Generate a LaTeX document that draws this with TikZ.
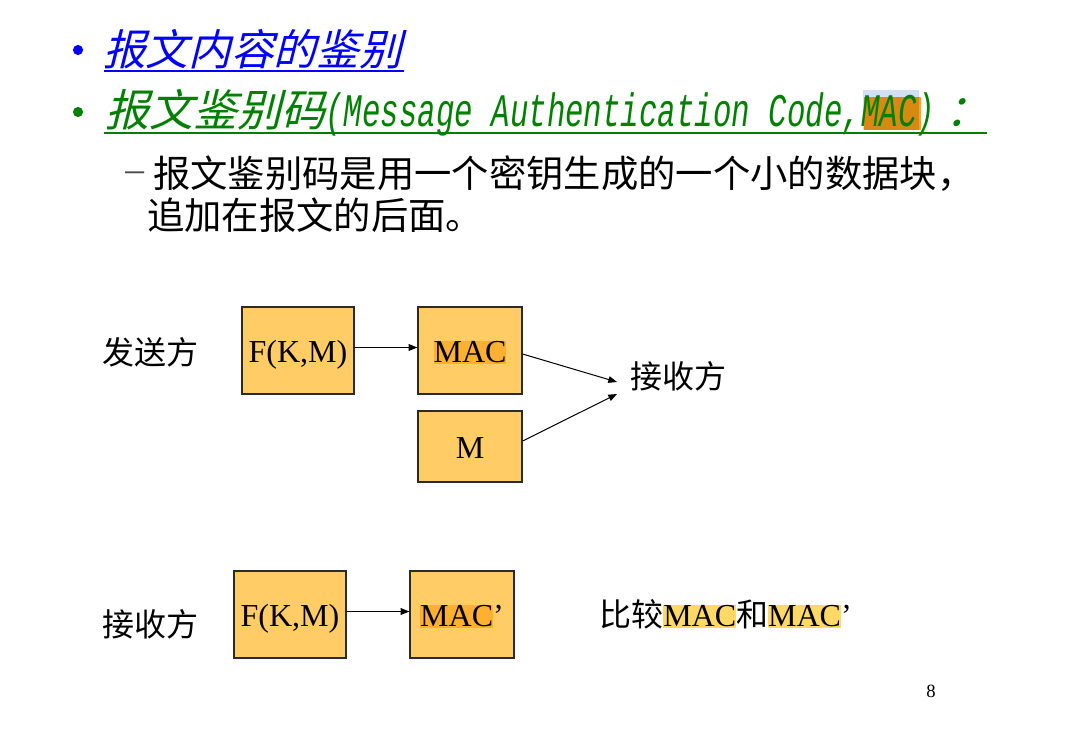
\documentclass[tikz,border=0pt]{standalone}
\usepackage{fontspec}
\usetikzlibrary{arrows.meta,calc}
\setmainfont{Liberation Serif}
\newfontfamily\cjk{Noto Sans CJK SC}
\newfontfamily\cjkit{Noto Sans CJK SC}[FakeSlant=0.25]
\newfontfamily\monoit{Liberation Mono Italic}[FakeStretch=0.66]

\definecolor{boxfill}{HTML}{FFCC66}
\definecolor{boxline}{HTML}{2B2B2B}
\definecolor{hlbox}{HTML}{FFB030}
\definecolor{hltext}{HTML}{FFD966}
\definecolor{titleblue}{HTML}{0000FF}
\definecolor{titlegreen}{HTML}{008000}
\definecolor{selblue}{HTML}{D3DEF7}
\definecolor{selorange}{HTML}{D68A12}
\definecolor{brightorange}{HTML}{FFA41C}

% highlighted run of text
\newcommand\hlmark[2]{{\setlength\fboxsep{0pt}\colorbox{#1}{\rule[-0.06em]{0pt}{0.70em}#2}}}

\begin{document}
\begin{tikzpicture}[x=0.75pt,y=-0.75pt,
  blk/.style={draw=boxline, line width=0.9pt, fill=boxfill,
    font=\fontsize{24pt}{28pt}\selectfont, inner sep=0pt,
    text height=17.3pt, text depth=0pt,
    minimum height=65.25pt},
  lbl/.style={font=\fontsize{24pt}{28pt}\cjk, inner sep=0pt},
  arr/.style={-{Triangle[length=6.5pt,width=5pt]}, line width=0.75pt, black}]
\useasboundingbox[fill=white] (0,0) rectangle (1067,729);

% bullet points
\fill[titleblue] (78,50) circle[radius=3.8pt];
\fill[titlegreen] (78,112) circle[radius=3.8pt];

% heading 1
\node[anchor=base west, inner sep=0pt, text=titleblue,
  font=\fontsize{32pt}{40pt}\cjkit] (title1) at (103,65) {报文内容的鉴别};
\draw[titleblue, line width=1.5pt] (104,70.5) -- (404,70.5);

% heading 2 with the marked "MAC"
\fill[selblue] (863,90) rectangle (919,130);
\fill[selorange] (864,97) rectangle (919,130);
\fill[brightorange] (919,97) rectangle (921,130);
\node[anchor=base west, inner sep=0pt, text=titlegreen,
  font=\fontsize{33pt}{40pt}\selectfont] (title2) at (105,126)
  {{\cjkit 报文鉴别码}{\fontsize{35pt}{40pt}\monoit (Message Authentication Code,MAC)}\hspace{8pt}{\cjkit ：}};
\draw[titlegreen, line width=1.5pt] (104,132.5) -- (987,132.5);

% body text
\node[anchor=base west, inner sep=0pt, font=\fontsize{28pt}{34pt}\selectfont] (body1) at (125,187)
  {\raisebox{4pt}{\color{black!70}–}\hspace{7pt}{\cjk 报文鉴别码是用一个密钥生成的一个小的数据块，}};
\node[anchor=base west, inner sep=0pt, font=\fontsize{28pt}{34pt}\cjk] (body2) at (147,229)
  {追加在报文的后面。};

% sender side
\node[lbl] (send) at (150,352) {发送方};
\node[blk, minimum width=84pt] (f1) at (298,350.5) {F(K,M)};
\node[blk, minimum width=78pt] (mac1) at (470,350.5) {\hlmark{hlbox}{MAC}};
\node[blk, minimum width=78pt, minimum height=53.25pt] (m) at (470,446.5) {M};
\node[lbl] (recv1) at (678.5,376) {接收方};
\coordinate (in1) at (617,382);
\coordinate (in2) at (617,394);
\draw[arr] ($(f1.east)+(0,-3)$) -- ($(mac1.west)+(0,-3)$);
\draw[arr] ($(mac1.east)+(0,3.5)$) -- (in1);
\draw[arr] ($(m.east)+(0,-5.5)$) -- (in2);

% receiver side
\node[lbl] (recv2) at (150,624) {接收方};
\node[blk, minimum width=84pt] (f2) at (290,614.5) {F(K,M)};
\node[blk, minimum width=78pt] (mac2) at (462,614.5) {\hlmark{hlbox}{MAC}’};
\draw[arr] ($(f2.east)+(0,-3)$) -- ($(mac2.west)+(0,-3)$);
\node[anchor=west, inner sep=0pt, font=\fontsize{24pt}{28pt}\selectfont] (cmp) at (599,614)
  {{\cjk 比较}\hlmark{hltext}{MAC}{\cjk 和}\hlmark{hltext}{MAC}’};

% page number
\node[font=\fontsize{14pt}{16pt}\selectfont, inner sep=0pt] (pg) at (931,691) {8};
\end{tikzpicture}
\end{document}
